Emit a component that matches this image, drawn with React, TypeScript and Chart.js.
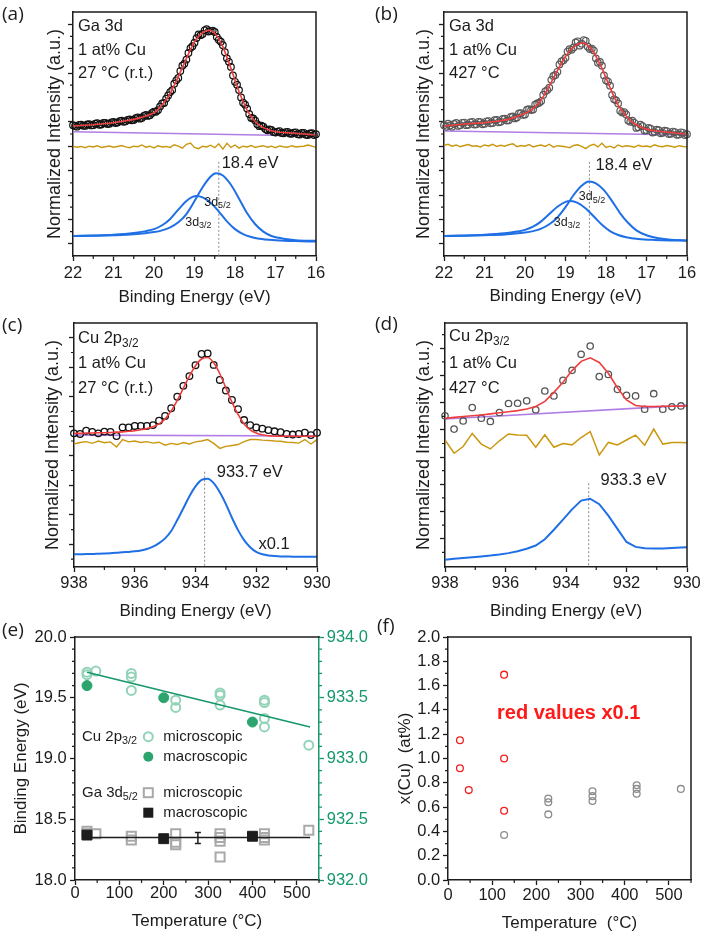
import React, { useEffect, useRef } from "react";
import { Chart, registerables } from "chart.js";

Chart.register(...registerables);

const FAM = "'Liberation Sans', Arial, Helvetica, sans-serif";
const LFAM = "'Open Sans', 'Liberation Sans', sans-serif";
const INK = "#1c1c1c";
const RED = "#f03c3c";
const PURPLE = "#b07ee4";
const GOLD = "#c9980f";
const BLUE = "#1f6fe5";
const GREEN = "#15986a";
const CU_LIGHT = "#92d3b8";
const CU_DARK = "#2ba56d";
const GA_LIGHT = "#a9a9a9";
const DOT = "#8a8a8a";
const NONE = "rgba(0,0,0,0)";

// ================= (a), (b) Ga 3d =================
const gaE = [22.0, 21.9, 21.8, 21.7, 21.6, 21.5, 21.4, 21.3, 21.2, 21.1, 21.0, 20.9, 20.8, 20.7, 20.6, 20.5, 20.4, 20.3, 20.2, 20.1, 20.0, 19.9, 19.8, 19.7, 19.6, 19.5, 19.4, 19.3, 19.2, 19.1, 19.0, 18.9, 18.8, 18.7, 18.6, 18.5, 18.4, 18.3, 18.2, 18.1, 18.0, 17.9, 17.8, 17.7, 17.6, 17.5, 17.4, 17.3, 17.2, 17.1, 17.0, 16.9, 16.8, 16.7, 16.6, 16.5, 16.4, 16.3, 16.2, 16.1, 16.0];
const gaDataE = [22.0, 21.95, 21.9, 21.85, 21.8, 21.75, 21.7, 21.65, 21.6, 21.55, 21.5, 21.45, 21.4, 21.35, 21.3, 21.25, 21.2, 21.15, 21.1, 21.05, 21.0, 20.95, 20.9, 20.85, 20.8, 20.75, 20.7, 20.65, 20.6, 20.55, 20.5, 20.45, 20.4, 20.35, 20.3, 20.25, 20.2, 20.15, 20.1, 20.05, 20.0, 19.95, 19.9, 19.85, 19.8, 19.75, 19.7, 19.65, 19.6, 19.55, 19.5, 19.45, 19.4, 19.35, 19.3, 19.25, 19.2, 19.15, 19.1, 19.05, 19.0, 18.95, 18.9, 18.85, 18.8, 18.75, 18.7, 18.65, 18.6, 18.55, 18.5, 18.45, 18.4, 18.35, 18.3, 18.25, 18.2, 18.15, 18.1, 18.05, 18.0, 17.95, 17.9, 17.85, 17.8, 17.75, 17.7, 17.65, 17.6, 17.55, 17.5, 17.45, 17.4, 17.35, 17.3, 17.25, 17.2, 17.15, 17.1, 17.05, 17.0, 16.95, 16.9, 16.85, 16.8, 16.75, 16.7, 16.65, 16.6, 16.55, 16.5, 16.45, 16.4, 16.35, 16.3, 16.25, 16.2, 16.15, 16.1, 16.05, 16.0];
const gaTicks = [16, 17, 18, 19, 20, 21, 22];
const gaTickLabels = ["16", "17", "18", "19", "20", "21", "22"];
const gaMinorX = [16.5, 17.5, 18.5, 19.5, 20.5, 21.5];
const gaYMajor = [0.5, 1.5, 2.5, 3.5, 4.5, 5.5, 6.5, 7.5, 8.5, 9.5];
const gaYMinor = [1, 2, 3, 4, 5, 6, 7, 8, 9];
const bgE = [22, 16];

const aFit = [5.33, 5.34, 5.35, 5.36, 5.37, 5.38, 5.40, 5.41, 5.43, 5.44, 5.46, 5.49, 5.51, 5.54, 5.57, 5.60, 5.64, 5.69, 5.74, 5.80, 5.87, 6.01, 6.19, 6.41, 6.67, 7.00, 7.35, 7.72, 8.10, 8.46, 8.78, 9.00, 9.15, 9.24, 9.25, 9.13, 8.90, 8.58, 8.15, 7.69, 7.20, 6.73, 6.33, 5.98, 5.71, 5.50, 5.36, 5.26, 5.19, 5.13, 5.09, 5.07, 5.06, 5.05, 5.04, 5.03, 5.01, 5.00, 4.99, 4.97, 4.96];
const aData = [5.36, 5.33, 5.30, 5.37, 5.38, 5.34, 5.33, 5.39, 5.40, 5.35, 5.36, 5.42, 5.44, 5.38, 5.39, 5.45, 5.46, 5.41, 5.42, 5.48, 5.50, 5.45, 5.47, 5.53, 5.55, 5.50, 5.52, 5.58, 5.60, 5.56, 5.57, 5.65, 5.68, 5.63, 5.66, 5.74, 5.78, 5.74, 5.77, 5.86, 5.92, 5.91, 5.98, 6.13, 6.25, 6.27, 6.45, 6.58, 6.72, 6.80, 7.06, 7.20, 7.30, 7.58, 7.80, 7.88, 8.05, 8.32, 8.52, 8.60, 8.74, 8.93, 9.08, 9.05, 9.10, 9.25, 9.30, 9.20, 9.22, 9.24, 9.18, 8.98, 8.86, 8.78, 8.64, 8.35, 8.10, 7.96, 7.75, 7.40, 7.14, 7.02, 6.80, 6.50, 6.28, 6.20, 6.04, 5.82, 5.66, 5.64, 5.55, 5.40, 5.32, 5.34, 5.30, 5.20, 5.15, 5.19, 5.17, 5.08, 5.06, 5.10, 5.12, 5.04, 5.03, 5.08, 5.09, 5.02, 5.01, 5.06, 5.07, 4.99, 4.98, 5.04, 5.05, 4.97, 4.96, 5.02, 5.03, 4.96, 4.99];
const aRes = [4.50, 4.46, 4.49, 4.44, 4.50, 4.47, 4.52, 4.45, 4.48, 4.51, 4.46, 4.49, 4.53, 4.47, 4.44, 4.50, 4.48, 4.55, 4.46, 4.50, 4.43, 4.52, 4.47, 4.49, 4.45, 4.56, 4.50, 4.42, 4.58, 4.63, 4.45, 4.40, 4.50, 4.47, 4.54, 4.44, 4.60, 4.38, 4.62, 4.45, 4.55, 4.42, 4.50, 4.47, 4.53, 4.45, 4.49, 4.52, 4.46, 4.50, 4.44, 4.51, 4.48, 4.46, 4.52, 4.47, 4.49, 4.50, 4.55, 4.50, 4.45];
const aBg = [5.09, 4.92];
const a32E = [22.0, 21.5, 21.0, 20.5, 20.2, 20.0, 19.8, 19.6, 19.4, 19.2, 19.05, 18.95, 18.8, 18.6, 18.4, 18.2, 18.0, 17.8, 17.6, 17.4, 17.0, 16.5, 16.0];
const a32 = [0.82, 0.84, 0.87, 0.94, 1.02, 1.10, 1.26, 1.52, 1.90, 2.25, 2.42, 2.46, 2.40, 2.18, 1.82, 1.42, 1.10, 0.90, 0.78, 0.71, 0.65, 0.61, 0.59];
const a52E = [22.0, 21.5, 21.0, 20.5, 20.0, 19.8, 19.6, 19.4, 19.2, 19.0, 18.8, 18.6, 18.47, 18.3, 18.1, 17.9, 17.7, 17.5, 17.3, 17.1, 16.8, 16.5, 16.0];
const a52 = [0.82, 0.83, 0.85, 0.89, 0.98, 1.05, 1.17, 1.38, 1.72, 2.25, 2.82, 3.26, 3.39, 3.30, 2.92, 2.35, 1.75, 1.30, 1.00, 0.82, 0.71, 0.65, 0.62];
const aPeakE = [18.4, 18.4];
const aPeakV = [3.86, 0];

const bFit = [5.33, 5.34, 5.36, 5.38, 5.39, 5.41, 5.42, 5.43, 5.44, 5.45, 5.46, 5.48, 5.50, 5.52, 5.54, 5.57, 5.61, 5.66, 5.71, 5.78, 5.85, 5.93, 6.04, 6.19, 6.40, 6.66, 6.97, 7.28, 7.60, 7.90, 8.17, 8.40, 8.57, 8.68, 8.74, 8.70, 8.55, 8.35, 8.03, 7.69, 7.30, 6.90, 6.52, 6.18, 5.95, 5.74, 5.56, 5.42, 5.33, 5.26, 5.20, 5.16, 5.13, 5.11, 5.09, 5.08, 5.06, 5.04, 5.03, 5.01, 5.00];
const bData = [5.36, 5.30, 5.42, 5.35, 5.30, 5.41, 5.45, 5.33, 5.36, 5.46, 5.47, 5.36, 5.38, 5.48, 5.50, 5.39, 5.40, 5.50, 5.49, 5.40, 5.42, 5.52, 5.53, 5.44, 5.45, 5.57, 5.58, 5.48, 5.50, 5.62, 5.63, 5.55, 5.56, 5.70, 5.72, 5.64, 5.68, 5.84, 5.85, 5.78, 5.80, 6.00, 6.02, 5.98, 6.00, 6.20, 6.25, 6.28, 6.35, 6.60, 6.75, 6.80, 6.90, 7.22, 7.38, 7.42, 7.55, 7.85, 7.98, 8.02, 8.12, 8.38, 8.48, 8.45, 8.55, 8.75, 8.80, 8.62, 8.70, 8.85, 8.82, 8.58, 8.48, 8.50, 8.42, 8.10, 7.92, 7.95, 7.80, 7.40, 7.20, 7.15, 6.98, 6.60, 6.42, 6.38, 6.25, 5.95, 5.88, 5.90, 5.80, 5.55, 5.50, 5.55, 5.46, 5.25, 5.28, 5.38, 5.32, 5.14, 5.15, 5.25, 5.22, 5.06, 5.08, 5.18, 5.16, 5.03, 5.05, 5.14, 5.12, 5.00, 5.01, 5.10, 5.08, 4.97, 4.98, 5.07, 5.05, 4.96, 4.99];
const bRes = [4.54, 4.58, 4.50, 4.55, 4.48, 4.53, 4.57, 4.50, 4.52, 4.47, 4.55, 4.51, 4.58, 4.49, 4.54, 4.50, 4.56, 4.60, 4.48, 4.53, 4.50, 4.57, 4.47, 4.52, 4.55, 4.49, 4.58, 4.46, 4.52, 4.50, 4.48, 4.44, 4.53, 4.56, 4.49, 4.40, 4.52, 4.58, 4.47, 4.62, 4.45, 4.50, 4.43, 4.55, 4.48, 4.52, 4.50, 4.46, 4.54, 4.49, 4.51, 4.47, 4.56, 4.50, 4.48, 4.53, 4.50, 4.46, 4.52, 4.49, 4.48];
const bBg = [5.12, 4.96];
const b32E = [22.0, 21.5, 21.0, 20.5, 20.2, 20.0, 19.8, 19.6, 19.4, 19.2, 19.0, 18.88, 18.7, 18.5, 18.3, 18.1, 17.9, 17.7, 17.5, 17.2, 16.8, 16.4, 16.0];
const b32 = [0.82, 0.84, 0.87, 0.93, 1.00, 1.07, 1.20, 1.42, 1.72, 2.02, 2.22, 2.25, 2.18, 1.95, 1.62, 1.28, 1.02, 0.86, 0.77, 0.70, 0.66, 0.64, 0.63];
const b52E = [22.0, 21.5, 21.0, 20.5, 20.0, 19.8, 19.6, 19.4, 19.2, 19.0, 18.8, 18.6, 18.42, 18.25, 18.05, 17.85, 17.65, 17.45, 17.25, 17.0, 16.7, 16.4, 16.0];
const b52 = [0.82, 0.83, 0.85, 0.88, 0.96, 1.02, 1.12, 1.30, 1.58, 2.00, 2.50, 2.88, 3.05, 2.98, 2.70, 2.25, 1.75, 1.35, 1.05, 0.85, 0.73, 0.67, 0.64];
const bPeakE = [18.41, 18.41];
const bPeakV = [3.86, 0];

// ================= (c), (d) Cu 2p3/2 =================
const cuTicks = [930, 932, 934, 936, 938];
const cuTickLabels = ["930", "932", "934", "936", "938"];
const cuMinorX = [931, 933, 935, 937];
const cuBgE = [938, 930];

const cE = [938.0, 937.8, 937.6, 937.4, 937.2, 937.0, 936.8, 936.6, 936.4, 936.2, 936.0, 935.8, 935.6, 935.4, 935.2, 935.0, 934.8, 934.6, 934.4, 934.2, 934.0, 933.8, 933.6, 933.4, 933.2, 933.0, 932.8, 932.6, 932.4, 932.2, 932.0, 931.8, 931.6, 931.4, 931.2, 931.0, 930.8, 930.6, 930.4, 930.2, 930.0];
const cData = [3.76, 3.74, 3.85, 3.81, 3.76, 3.82, 3.81, 3.67, 3.96, 3.96, 4.01, 4.01, 4.01, 4.04, 4.19, 4.35, 4.61, 5.00, 5.37, 5.70, 6.07, 6.45, 6.47, 6.08, 5.57, 5.21, 4.89, 4.58, 4.21, 4.04, 3.96, 3.92, 3.87, 3.83, 3.80, 3.74, 3.72, 3.74, 3.78, 3.70, 3.78];
const cFit = [3.76, 3.76, 3.77, 3.77, 3.78, 3.78, 3.79, 3.80, 3.81, 3.83, 3.85, 3.88, 3.92, 3.98, 4.08, 4.25, 4.52, 4.88, 5.29, 5.70, 6.05, 6.28, 6.33, 6.15, 5.78, 5.30, 4.82, 4.40, 4.08, 3.88, 3.77, 3.71, 3.68, 3.67, 3.66, 3.66, 3.66, 3.66, 3.66, 3.66, 3.66];
const cRes = [3.40, 3.45, 3.48, 3.42, 3.50, 3.44, 3.47, 3.30, 3.55, 3.47, 3.50, 3.45, 3.48, 3.43, 3.46, 3.36, 3.42, 3.38, 3.45, 3.40, 3.47, 3.50, 3.55, 3.42, 3.25, 3.32, 3.35, 3.38, 3.48, 3.55, 3.55, 3.53, 3.52, 3.50, 3.49, 3.46, 3.45, 3.43, 3.55, 3.40, 3.55];
const cComp = [-0.34, -0.34, -0.33, -0.33, -0.32, -0.31, -0.30, -0.29, -0.27, -0.26, -0.24, -0.21, -0.16, -0.08, 0.04, 0.20, 0.45, 0.82, 1.22, 1.63, 1.96, 2.18, 2.22, 2.07, 1.76, 1.36, 0.90, 0.48, 0.14, -0.10, -0.26, -0.34, -0.38, -0.40, -0.41, -0.41, -0.42, -0.42, -0.42, -0.42, -0.42];
const cBg = [3.70, 3.67];
const cPeakE = [933.7, 933.7];
const cPeakV = [2.46, -0.77];
const cYMajor = [0, 1, 2, 3, 4, 5, 6, 7];
const cYMinor = [-0.5, 0.5, 1.5, 2.5, 3.5, 4.5, 5.5, 6.5];

const dE = [938.0, 937.7, 937.4, 937.1, 936.8, 936.5, 936.2, 935.9, 935.6, 935.3, 935.0, 934.7, 934.4, 934.1, 933.8, 933.5, 933.2, 932.9, 932.6, 932.3, 932.0, 931.7, 931.4, 931.1, 930.8, 930.5, 930.2];
const dLineE = [938.0, 937.7, 937.4, 937.1, 936.8, 936.5, 936.2, 935.9, 935.6, 935.3, 935.0, 934.7, 934.4, 934.1, 933.8, 933.5, 933.2, 932.9, 932.6, 932.3, 932.0, 931.7, 931.4, 931.1, 930.8, 930.5, 930.2, 930.0];
const dData = [4.52, 4.03, 4.33, 4.82, 4.43, 4.31, 4.64, 4.97, 4.98, 5.07, 4.74, 5.43, 5.25, 5.82, 6.19, 6.78, 7.08, 5.96, 6.04, 5.49, 5.27, 5.25, 4.76, 5.33, 4.76, 4.85, 4.88];
const dFit = [4.43, 4.46, 4.49, 4.52, 4.55, 4.59, 4.63, 4.67, 4.71, 4.77, 4.86, 5.05, 5.38, 5.75, 6.18, 6.52, 6.65, 6.48, 6.08, 5.55, 5.10, 4.90, 4.86, 4.86, 4.87, 4.87, 4.88, 4.88];
const dRes = [3.63, 3.14, 3.39, 3.87, 3.48, 3.30, 3.60, 3.85, 3.81, 3.80, 3.36, 3.82, 3.36, 3.50, 3.45, 3.72, 3.94, 3.08, 3.54, 3.45, 3.63, 3.81, 3.44, 4.03, 3.48, 3.54, 3.54, 3.53];
const dComp = [-0.77, -0.74, -0.71, -0.68, -0.65, -0.62, -0.58, -0.53, -0.46, -0.37, -0.25, -0.02, 0.33, 0.70, 1.08, 1.40, 1.47, 1.27, 0.85, 0.36, -0.12, -0.30, -0.35, -0.36, -0.36, -0.34, -0.32, -0.31];
const dBg = [4.40, 4.90];
const dPeakE = [933.25, 933.25];
const dPeakV = [2.04, -1.04];
const dYMajor = [0, 1, 2, 3, 4, 5, 6, 7];
const dYMinor = [-0.5, 0.5, 1.5, 2.5, 3.5, 4.5, 5.5, 6.5, 7.5];

// ================= (e), (f) vs temperature =================
const tempTicks = [0, 100, 200, 300, 400, 500];
const tempTickLabels = ["0", "100", "200", "300", "400", "500"];
const tempMinor = [50, 150, 250, 350, 450, 550];

const eYTicks = [18.0, 18.5, 19.0, 19.5, 20.0];
const eYLabels = ["18.0", "18.5", "19.0", "19.5", "20.0"];
const eYMinor = [18.1, 18.2, 18.3, 18.4, 18.6, 18.7, 18.8, 18.9, 19.1, 19.2, 19.3, 19.4, 19.6, 19.7, 19.8, 19.9];
const eY2Ticks = [932.0, 932.5, 933.0, 933.5, 934.0];
const eY2Labels = ["932.0", "932.5", "933.0", "933.5", "934.0"];
const eY2Minor = [932.1, 932.2, 932.3, 932.4, 932.6, 932.7, 932.8, 932.9, 933.1, 933.2, 933.3, 933.4, 933.6, 933.7, 933.8, 933.9];

const cuMicroT = [27, 27, 47, 127, 127, 127, 227, 227, 327, 327, 327, 427, 427, 427, 427, 527];
const cuMicroBE = [933.71, 933.69, 933.72, 933.70, 933.67, 933.56, 933.48, 933.42, 933.54, 933.52, 933.44, 933.48, 933.46, 933.33, 933.26, 933.11];
const cuMacroT = [27, 200, 400];
const cuMacroBE = [933.60, 933.50, 933.30];
const cuFitT = [27, 530];
const cuFitBE = [933.71, 933.26];
const gaMicroT = [27, 27, 47, 127, 127, 227, 227, 227, 327, 327, 327, 327, 427, 427, 427, 527];
const gaMicroBE = [18.40, 18.38, 18.38, 18.36, 18.33, 18.38, 18.31, 18.29, 18.38, 18.35, 18.32, 18.19, 18.38, 18.35, 18.33, 18.41];
const gaMacroT = [27, 200, 400];
const gaMacroBE = [18.37, 18.34, 18.36];
const gaFitT = [27, 530];
const gaFitBE = [18.35, 18.35];
const errT = [277];
const errLo = [18.30];
const errHi = [18.39];

const fYTicks = [0, 0.2, 0.4, 0.6, 0.8, 1.0, 1.2, 1.4, 1.6, 1.8, 2.0];
const fYLabels = ["0.0", "0.2", "0.4", "0.6", "0.8", "1.0", "1.2", "1.4", "1.6", "1.8", "2.0"];
const fYMinor = [0.1, 0.3, 0.5, 0.7, 0.9, 1.1, 1.3, 1.5, 1.7, 1.9];
const redT = [27, 27, 47, 127, 127, 127];
const redX = [1.15, 0.92, 0.74, 1.69, 1.00, 0.57];
const grayT = [127, 227, 227, 227, 327, 327, 327, 427, 427, 427, 527];
const grayX = [0.37, 0.67, 0.64, 0.54, 0.73, 0.69, 0.65, 0.78, 0.75, 0.71, 0.75];

// ================= helpers =================
type Seg = { t: string; sub?: boolean };
type TextItem = {
  at: "canvas" | "area" | "data";
  x: number;
  y: number;
  segs: Seg[];
  size?: number;
  color?: string;
  weight?: string;
  family?: string;
  yAxis?: string;
};
type LegendRow = { y: number; group?: Seg[]; marker: string; color: string; text: string };
type Decor = {
  frameRight: boolean;
  minor: { axis: string; values: number[]; color?: string }[];
  texts: TextItem[];
  errorBars?: { xs: number[]; lo: number[]; hi: number[] };
  legend?: { x0: number; markX: number; textX: number; size: number; rows: LegendRow[] };
};

const pts = (xs: number[], ys: number[]) => xs.map((x, i) => ({ x, y: ys[i] }));

function lineDs(data: any[], color: string, width: number, extra: any = {}) {
  return {
    data,
    showLine: true,
    borderColor: color,
    backgroundColor: color,
    borderWidth: width,
    pointRadius: 0,
    fill: false,
    tension: 0,
    ...extra,
  };
}

function markDs(data: any[], style: string, color: string, radius: number, width: number, fillColor: string, extra: any = {}) {
  return {
    data,
    showLine: false,
    pointStyle: style,
    pointRadius: radius,
    pointBorderWidth: width,
    pointBorderColor: color,
    pointBackgroundColor: fillColor,
    borderColor: color,
    backgroundColor: fillColor,
    clip: false,
    ...extra,
  };
}

function drawRich(ctx: CanvasRenderingContext2D, x: number, y: number, segs: Seg[], size: number, color: string, family: string, weight: string) {
  ctx.fillStyle = color;
  ctx.textBaseline = "middle";
  ctx.textAlign = "left";
  let cx = x;
  for (const s of segs) {
    const fs = s.sub ? size * 0.72 : size;
    ctx.font = `${weight} ${fs}px ${family}`;
    ctx.fillText(s.t, cx, y + (s.sub ? size * 0.3 : 0));
    cx += ctx.measureText(s.t).width;
  }
}

function drawMarker(ctx: CanvasRenderingContext2D, kind: string, x: number, y: number, color: string) {
  ctx.save();
  ctx.strokeStyle = color;
  ctx.fillStyle = color;
  ctx.lineWidth = 2;
  if (kind === "openCircle") {
    ctx.beginPath();
    ctx.arc(x, y, 4.5, 0, Math.PI * 2);
    ctx.stroke();
  } else if (kind === "filledCircle") {
    ctx.beginPath();
    ctx.arc(x, y, 5, 0, Math.PI * 2);
    ctx.fill();
  } else if (kind === "openSquare") {
    ctx.strokeRect(x - 4.5, y - 4.5, 9, 9);
  } else {
    ctx.fillRect(x - 5, y - 5, 10, 10);
  }
  ctx.restore();
}

function makeDecor(d: Decor) {
  return {
    id: "decor",
    afterDraw(chart: any) {
      const { ctx, chartArea: ca, scales } = chart;
      ctx.save();
      ctx.lineWidth = 1.5;
      ctx.strokeStyle = INK;
      ctx.beginPath();
      ctx.moveTo(ca.left - 0.75, ca.top);
      ctx.lineTo(ca.right + 0.75, ca.top);
      if (d.frameRight) {
        ctx.moveTo(ca.right, ca.top);
        ctx.lineTo(ca.right, ca.bottom);
      }
      ctx.stroke();

      for (const m of d.minor) {
        const s = scales[m.axis];
        ctx.strokeStyle = m.color || INK;
        ctx.lineWidth = 1.2;
        ctx.beginPath();
        for (const v of m.values) {
          const p = s.getPixelForValue(v);
          if (m.axis === "x") {
            ctx.moveTo(p, ca.bottom);
            ctx.lineTo(p, ca.bottom + 3);
          } else if (s.position === "right") {
            ctx.moveTo(ca.right, p);
            ctx.lineTo(ca.right + 3, p);
          } else {
            ctx.moveTo(ca.left, p);
            ctx.lineTo(ca.left - 3, p);
          }
        }
        ctx.stroke();
      }

      if (d.errorBars) {
        const e = d.errorBars;
        ctx.strokeStyle = INK;
        ctx.lineWidth = 1.5;
        ctx.beginPath();
        e.xs.forEach((xv, i) => {
          const x = scales.x.getPixelForValue(xv);
          const y1 = scales.y.getPixelForValue(e.lo[i]);
          const y2 = scales.y.getPixelForValue(e.hi[i]);
          ctx.moveTo(x, y1);
          ctx.lineTo(x, y2);
          ctx.moveTo(x - 3, y1);
          ctx.lineTo(x + 3, y1);
          ctx.moveTo(x - 3, y2);
          ctx.lineTo(x + 3, y2);
        });
        ctx.stroke();
      }

      if (d.legend) {
        const L = d.legend;
        for (const r of L.rows) {
          const y = ca.top + r.y;
          if (r.group) drawRich(ctx, ca.left + L.x0, y, r.group, L.size, INK, FAM, "normal");
          drawMarker(ctx, r.marker, ca.left + L.markX, y, r.color);
          drawRich(ctx, ca.left + L.textX, y, [{ t: r.text }], L.size, INK, FAM, "normal");
        }
      }

      for (const t of d.texts) {
        let x = t.x;
        let y = t.y;
        if (t.at === "area") {
          x = ca.left + t.x;
          y = ca.top + t.y;
        } else if (t.at === "data") {
          x = scales.x.getPixelForValue(t.x);
          y = scales[t.yAxis || "y"].getPixelForValue(t.y);
        }
        drawRich(ctx, x, y, t.segs, t.size || 16.5, t.color || INK, t.family || FAM, t.weight || "normal");
      }
      ctx.restore();
    },
  };
}

function linAxis(o: {
  pos: "left" | "right" | "bottom";
  min: number;
  max: number;
  reverse?: boolean;
  majors: number[];
  labels?: string[];
  size: number;
  tickPad?: number;
  color?: string;
  title?: string;
  titlePad?: number;
  titleSize?: number;
}) {
  const color = o.color || INK;
  const horizontal = o.pos === "bottom";
  return {
    type: "linear",
    position: o.pos,
    min: o.min,
    max: o.max,
    reverse: !!o.reverse,
    afterBuildTicks: (ax: any) => {
      ax.ticks = o.majors.map((v) => ({ value: v }));
    },
    afterFit: (ax: any) => {
      if (horizontal) ax.height = o.size;
      else ax.width = o.size;
    },
    ticks: {
      display: !!o.labels,
      autoSkip: false,
      maxRotation: 0,
      minRotation: 0,
      padding: o.tickPad ?? 3,
      color,
      font: { family: FAM, size: 16.5, lineHeight: 1 },
      callback: (_v: any, i: number) => (o.labels ? o.labels[i] : ""),
    },
    grid: {
      display: true,
      drawOnChartArea: false,
      drawTicks: true,
      tickLength: 5,
      tickWidth: 1.3,
      tickColor: color,
      color,
    },
    border: { display: true, color, width: 1.5 },
    title: {
      display: !!o.title,
      text: o.title || "",
      color: INK,
      font: { family: FAM, size: o.titleSize || 17, lineHeight: 1.2 },
      padding: horizontal ? { top: 0, bottom: o.titlePad || 0 } : { top: o.titlePad || 0, bottom: 0 },
    },
  };
}

function makeConfig(spec: { padTop: number; padRight: number; scales: any; datasets: any[]; decor: Decor }) {
  return {
    type: "scatter",
    data: { datasets: spec.datasets },
    options: {
      responsive: false,
      maintainAspectRatio: false,
      animation: false,
      events: [],
      layout: { padding: { left: 0, top: spec.padTop, right: spec.padRight, bottom: 0 } },
      plugins: { legend: { display: false }, tooltip: { enabled: false } },
      scales: spec.scales,
    },
    plugins: [makeDecor(spec.decor)],
  } as any;
}

const mono = { cubicInterpolationMode: "monotone" };
const dotted = { borderDash: [2, 2] };
const NI = "Normalized Intensity (a.u.)";
const BE = "Binding Energy (eV)";

// ================= panel configs =================
const configA = () =>
  makeConfig({
    padTop: 12,
    padRight: 36,
    scales: {
      x: linAxis({ pos: "bottom", min: 16, max: 22, reverse: true, majors: gaTicks, labels: gaTickLabels, size: 54, tickPad: 4, title: BE, titlePad: 2.1 }),
      y: linAxis({ pos: "left", min: 0, max: 10, majors: gaYMajor, size: 73, title: NI, titlePad: 44.2, titleSize: 18 }),
    },
    datasets: [
      lineDs(pts(gaE, aFit), RED, 1.6),
      markDs(pts(gaDataE, aData), "circle", "#111111", 3.3, 1.2, NONE),
      lineDs(pts(bgE, aBg), PURPLE, 1.6),
      lineDs(pts(gaE, aRes), GOLD, 1.4),
      lineDs(pts(a52E, a52), BLUE, 2, mono),
      lineDs(pts(a32E, a32), BLUE, 2, mono),
      lineDs(pts(aPeakE, aPeakV), DOT, 1, dotted),
    ],
    decor: {
      frameRight: true,
      minor: [
        { axis: "x", values: gaMinorX },
        { axis: "y", values: gaYMinor },
      ],
      texts: [
        { at: "canvas", x: 2, y: 15, segs: [{ t: "(a)" }], size: 19, family: LFAM },
        { at: "area", x: 5, y: 14.7, segs: [{ t: "Ga 3d" }] },
        { at: "area", x: 5, y: 38, segs: [{ t: "1 at% Cu" }] },
        { at: "area", x: 5, y: 61.3, segs: [{ t: "27 °C (r.t.)" }] },
        { at: "data", x: 18.33, y: 3.8, segs: [{ t: "18.4 eV" }] },
        { at: "data", x: 18.76, y: 2.21, segs: [{ t: "3d" }, { t: "5/2", sub: true }], size: 12.5 },
        { at: "data", x: 19.23, y: 1.39, segs: [{ t: "3d" }, { t: "3/2", sub: true }], size: 12.5 },
      ],
    },
  });

const configB = () =>
  makeConfig({
    padTop: 12,
    padRight: 17,
    scales: {
      x: linAxis({ pos: "bottom", min: 16, max: 22, reverse: true, majors: gaTicks, labels: gaTickLabels, size: 54, tickPad: 4, title: BE, titlePad: 3.1 }),
      y: linAxis({ pos: "left", min: 0, max: 10, majors: gaYMajor, size: 92, title: NI, titlePad: 60.9, titleSize: 18 }),
    },
    datasets: [
      lineDs(pts(gaE, bFit), RED, 1.6),
      markDs(pts(gaDataE, bData), "circle", "#595959", 3.3, 1.2, NONE),
      lineDs(pts(bgE, bBg), PURPLE, 1.6),
      lineDs(pts(gaE, bRes), GOLD, 1.4),
      lineDs(pts(b52E, b52), BLUE, 2, mono),
      lineDs(pts(b32E, b32), BLUE, 2, mono),
      lineDs(pts(bPeakE, bPeakV), DOT, 1, dotted),
    ],
    decor: {
      frameRight: true,
      minor: [
        { axis: "x", values: gaMinorX },
        { axis: "y", values: gaYMinor },
      ],
      texts: [
        { at: "canvas", x: 23, y: 15, segs: [{ t: "(b)" }], size: 19, family: LFAM },
        { at: "area", x: 5, y: 14.7, segs: [{ t: "Ga 3d" }] },
        { at: "area", x: 5, y: 38, segs: [{ t: "1 at% Cu" }] },
        { at: "area", x: 5, y: 61.3, segs: [{ t: "427 °C" }] },
        { at: "data", x: 18.26, y: 3.7, segs: [{ t: "18.4 eV" }] },
        { at: "data", x: 18.67, y: 2.42, segs: [{ t: "3d" }, { t: "5/2", sub: true }], size: 12.5 },
        { at: "data", x: 19.29, y: 1.39, segs: [{ t: "3d" }, { t: "3/2", sub: true }], size: 12.5 },
      ],
    },
  });

const configC = () =>
  makeConfig({
    padTop: 21,
    padRight: 35,
    scales: {
      x: linAxis({ pos: "bottom", min: 930, max: 938, reverse: true, majors: cuTicks, labels: cuTickLabels, size: 55, tickPad: 3, title: BE, titlePad: 0.1 }),
      y: linAxis({ pos: "left", min: -0.77, max: 7.5, majors: cYMajor, size: 74, title: NI, titlePad: 42.2, titleSize: 18 }),
    },
    datasets: [
      lineDs(pts(cE, cFit), RED, 1.6, mono),
      markDs(pts(cE, cData), "circle", "#111111", 3.3, 1.3, NONE),
      lineDs(pts(cuBgE, cBg), PURPLE, 1.6),
      lineDs(pts(cE, cRes), GOLD, 1.4),
      lineDs(pts(cE, cComp), BLUE, 2, mono),
      lineDs(pts(cPeakE, cPeakV), DOT, 1, dotted),
    ],
    decor: {
      frameRight: true,
      minor: [
        { axis: "x", values: cuMinorX },
        { axis: "y", values: cYMinor },
      ],
      texts: [
        { at: "canvas", x: 2, y: 23.7, segs: [{ t: "(c)" }], size: 19, family: LFAM },
        { at: "area", x: 4, y: 15.3, segs: [{ t: "Cu 2p" }, { t: "3/2", sub: true }] },
        { at: "area", x: 4, y: 40.3, segs: [{ t: "1 at% Cu" }] },
        { at: "area", x: 4, y: 65.3, segs: [{ t: "27 °C (r.t.)" }] },
        { at: "data", x: 933.3, y: 2.44, segs: [{ t: "933.7 eV" }] },
        { at: "data", x: 931.93, y: -0.02, segs: [{ t: "x0.1" }] },
      ],
    },
  });

const configD = () =>
  makeConfig({
    padTop: 21,
    padRight: 17,
    scales: {
      x: linAxis({ pos: "bottom", min: 930, max: 938, reverse: true, majors: cuTicks, labels: cuTickLabels, size: 55, tickPad: 3, title: BE, titlePad: 0.1 }),
      y: linAxis({ pos: "left", min: -1.04, max: 7.93, majors: dYMajor, size: 93, title: NI, titlePad: 60.9, titleSize: 18 }),
    },
    datasets: [
      lineDs(pts(dLineE, dFit), RED, 1.6),
      markDs(pts(dE, dData), "circle", "#555555", 3.2, 1.3, NONE),
      lineDs(pts(cuBgE, dBg), PURPLE, 1.6),
      lineDs(pts(dLineE, dRes), GOLD, 1.5),
      lineDs(pts(dLineE, dComp), BLUE, 2),
      lineDs(pts(dPeakE, dPeakV), DOT, 1, dotted),
    ],
    decor: {
      frameRight: true,
      minor: [
        { axis: "x", values: cuMinorX },
        { axis: "y", values: dYMinor },
      ],
      texts: [
        { at: "canvas", x: 23, y: 23, segs: [{ t: "(d)" }], size: 19, family: LFAM },
        { at: "area", x: 4, y: 13.7, segs: [{ t: "Cu 2p" }, { t: "3/2", sub: true }] },
        { at: "area", x: 4, y: 40.3, segs: [{ t: "1 at% Cu" }] },
        { at: "area", x: 4, y: 65.3, segs: [{ t: "427 °C" }] },
        { at: "data", x: 932.86, y: 2.16, segs: [{ t: "933.3 eV" }] },
      ],
    },
  });

const configE = () =>
  makeConfig({
    padTop: 21,
    padRight: 0,
    scales: {
      x: linAxis({ pos: "bottom", min: 0, max: 550, majors: tempTicks, labels: tempTickLabels, size: 56, tickPad: 0, title: "Temperature (°C)", titlePad: 4.1 }),
      y: linAxis({ pos: "left", min: 18, max: 20, majors: eYTicks, labels: eYLabels, size: 75, tickPad: 3.3, title: BE, titlePad: 11.5 }),
      y2: linAxis({ pos: "right", min: 932, max: 934, majors: eY2Ticks, labels: eY2Labels, size: 61, tickPad: 2.7, color: GREEN }),
    },
    datasets: [
      markDs(pts(gaMacroT, gaMacroBE), "rect", INK, 7, 1, INK),
      markDs(pts(cuMacroT, cuMacroBE), "circle", CU_DARK, 5, 1, CU_DARK, { yAxisID: "y2" }),
      lineDs(pts(cuFitT, cuFitBE), GREEN, 1.6, { yAxisID: "y2" }),
      lineDs(pts(gaFitT, gaFitBE), INK, 1.5),
      markDs(pts(cuMicroT, cuMicroBE), "circle", CU_LIGHT, 4.5, 2, NONE, { yAxisID: "y2" }),
      markDs(pts(gaMicroT, gaMicroBE), "rect", GA_LIGHT, 6.4, 2, NONE),
    ],
    decor: {
      frameRight: false,
      minor: [
        { axis: "x", values: tempMinor },
        { axis: "y", values: eYMinor },
        { axis: "y2", values: eY2Minor, color: GREEN },
      ],
      errorBars: { xs: errT, lo: errLo, hi: errHi },
      legend: {
        x0: 7,
        markX: 73.3,
        textX: 88.3,
        size: 15,
        rows: [
          { y: 99.7, group: [{ t: "Cu 2p" }, { t: "3/2", sub: true }], marker: "openCircle", color: CU_LIGHT, text: "microscopic" },
          { y: 119.7, marker: "filledCircle", color: CU_DARK, text: "macroscopic" },
          { y: 155.7, group: [{ t: "Ga 3d" }, { t: "5/2", sub: true }], marker: "openSquare", color: GA_LIGHT, text: "microscopic" },
          { y: 175.7, marker: "filledSquare", color: INK, text: "macroscopic" },
        ],
      },
      texts: [{ at: "canvas", x: 2, y: 14.7, segs: [{ t: "(e)" }], size: 19, family: LFAM }],
    },
  });

const configF = () =>
  makeConfig({
    padTop: 21,
    padRight: 13,
    scales: {
      x: linAxis({ pos: "bottom", min: 0, max: 550, majors: tempTicks, labels: tempTickLabels, size: 56, tickPad: 1.75, title: "Temperature  (°C)", titlePad: 2.5 }),
      y: linAxis({ pos: "left", min: 0, max: 2, majors: fYTicks, labels: fYLabels, size: 96, tickPad: 2.7, title: "x(Cu)  (at%)", titlePad: 43.1 }),
    },
    datasets: [
      markDs(pts(redT, redX), "circle", "#f02020", 3.4, 1.3, NONE),
      markDs(pts(grayT, grayX), "circle", "#8c8c8c", 3.4, 1.3, NONE),
    ],
    decor: {
      frameRight: true,
      minor: [
        { axis: "x", values: tempMinor },
        { axis: "y", values: fYMinor },
      ],
      texts: [
        { at: "canvas", x: 25, y: 10.7, segs: [{ t: "(f)" }], size: 19, family: LFAM },
        { at: "data", x: 110.9, y: 1.37, segs: [{ t: "red values x0.1" }], size: 20, weight: "bold", color: "#ff1a1a" },
      ],
    },
  });

function Panel({ left, top, width, height, make }: { left: number; top: number; width: number; height: number; make: () => any }) {
  const ref = useRef<HTMLCanvasElement>(null);
  useEffect(() => {
    if (!ref.current) return;
    const chart = new Chart(ref.current, make());
    return () => chart.destroy();
  }, []);
  return (
    <canvas
      ref={ref}
      width={width}
      height={height}
      style={{ position: "absolute", left, top, width, height, display: "block" }}
    />
  );
}

export default function App() {
  return (
    <div style={{ position: "absolute", left: 0, top: 0, width: 704, height: 936, background: "#ffffff", overflow: "hidden" }}>
      <Panel left={0} top={0} width={352} height={310} make={configA} />
      <Panel left={352} top={0} width={352} height={310} make={configB} />
      <Panel left={0} top={302} width={352} height={320} make={configC} />
      <Panel left={352} top={302} width={352} height={320} make={configD} />
      <Panel left={0} top={616} width={380} height={320} make={configE} />
      <Panel left={352} top={616} width={352} height={320} make={configF} />
    </div>
  );
}
